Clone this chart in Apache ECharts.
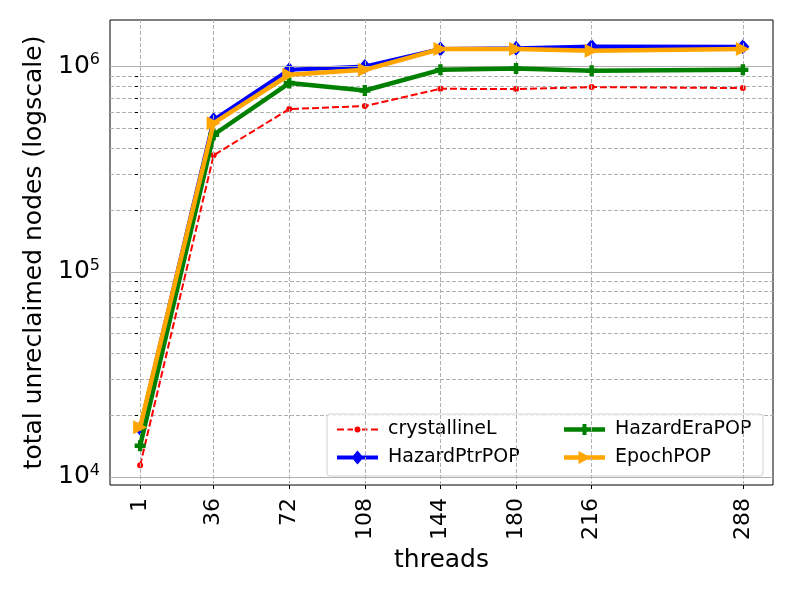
<!DOCTYPE html>
<html>
<head>
<meta charset="utf-8">
<script src="https://cdn.jsdelivr.net/npm/echarts@6/dist/echarts.min.js"></script>
<style>
  html, body { margin: 0; padding: 0; background: #fff; }
  #chart { width: 800px; height: 600px; }
</style>
</head>
<body>
<div id="chart"></div>
<script>
// thread counts and measured unreclaimed nodes
var threads = [1, 36, 72, 108, 144, 180, 216, 288];
var crystallineL = [11400, 370000, 622000, 643000, 781000, 778000, 796000, 787000];
var hazardPtrPOP = [17300, 551000, 968000, 1004000, 1220000, 1230000, 1256000, 1250000];
var hazardEraPOP = [14200, 466000, 833000, 766000, 966000, 981000, 955000, 966000];
var epochPOP = [17500, 531000, 914000, 966000, 1220000, 1222000, 1197000, 1220000];

// log axis ticks
var majorTicks = [1e4, 1e5, 1e6];
var minorTicks = [2e4, 3e4, 4e4, 5e4, 6e4, 7e4, 8e4, 9e4, 2e5, 3e5, 4e5, 5e5, 6e5, 7e5, 8e5, 9e5];

var FONT = 'DejaVu Sans';
var gridColor = '#b0b0b0';

function pairs(ys) {
    var out = [];
    for (var i = 0; i < threads.length; i++) {
        out.push([threads[i], ys[i]]);
    }
    return out;
}

var gridLines = [];
majorTicks.forEach(function (v) {
    gridLines.push({ yAxis: v, lineStyle: { type: 'solid', color: gridColor, width: 1 } });
});
threads.forEach(function (t) { gridLines.push({ xAxis: t }); });

// legend handles: line + marker, drawn in a 41x14 box
var iconRed = 'path://M0,6H7V8H0Z M10.5,6H16V8H10.5Z M25,6H30.5V8H25Z M34,6H41V8H34Z ' +
    'M17.5,7A3,3 0 1,1 23.5,7A3,3 0 1,1 17.5,7Z';
var iconBlue = 'path://M0,5H41V9H0Z M20.5,0L26.5,7L20.5,14L14.5,7Z';
var iconGreen = 'path://M0,4.8H41V9.2H0Z M18.5,1.5H22.5V5H26V9H22.5V12.5H18.5V9H15V5H18.5Z';
var iconOrange = 'path://M0,4.8H41V9.2H0Z M14.5,0.5L27,7L14.5,13.5Z';

var plusPath = 'path://M3,0H7V3H10V7H7V10H3V7H0V3H3Z';

var legendText = { fontFamily: FONT, fontSize: 19, color: '#000', padding: [0, 0, 0, 5] };

var option = {
    animation: false,
    grid: {
        left: 110, right: 27, top: 20, bottom: 115,
        show: true, borderColor: '#000', borderWidth: 1, backgroundColor: 'transparent'
    },
    xAxis: {
        type: 'value',
        min: -13.35,
        max: 302.35,
        name: 'threads',
        nameLocation: 'middle',
        nameGap: 62,
        nameTextStyle: { fontFamily: FONT, fontSize: 25, color: '#000' },
        axisLine: { show: false },
        axisTick: { show: true, customValues: threads, length: 4, lineStyle: { color: '#000' } },
        axisLabel: {
            customValues: threads,
            rotate: 90,
            fontFamily: FONT, fontSize: 22, color: '#000', margin: 13
        },
        splitLine: { show: false }
    },
    yAxis: {
        type: 'log',
        logBase: 10,
        min: 9140,
        max: 1690000,
        name: 'total unreclaimed nodes (logscale)',
        nameLocation: 'middle',
        nameGap: 60,
        nameTextStyle: { fontFamily: FONT, fontSize: 25, color: '#000' },
        axisLine: { show: false },
        axisTick: {
            show: true, length: 3,
            customValues: majorTicks.concat(minorTicks),
            lineStyle: { color: '#000' }
        },
        axisLabel: {
            customValues: majorTicks,
            fontFamily: FONT, color: '#000', margin: 10,
            formatter: function (v) {
                var e = Math.log10(v);
                if (Math.abs(e - Math.round(e)) > 1e-6) return '';
                return '{b|10}{s|' + Math.round(e) + '}';
            },
            rich: {
                b: { fontFamily: FONT, fontSize: 25, color: '#000' },
                s: { fontFamily: FONT, fontSize: 16, color: '#000', verticalAlign: 'top', padding: [0, 0, 13, 0] }
            }
        },
        splitLine: { show: true, lineStyle: { color: gridColor, width: 1, type: [4, 2] } }
    },
    legend: [{
        orient: 'vertical',
        left: 332, top: 415,
        itemGap: 9,
        itemWidth: 41, itemHeight: 14,
        textStyle: legendText,
        itemStyle: { borderWidth: 0 },
        data: [
            { name: 'crystallineL', icon: iconRed },
            { name: 'HazardPtrPOP', icon: iconBlue }
        ]
    }, {
        orient: 'vertical',
        left: 559, top: 415,
        itemGap: 9,
        itemWidth: 41, itemHeight: 14,
        textStyle: legendText,
        itemStyle: { borderWidth: 0 },
        data: [
            { name: 'HazardEraPOP', icon: iconGreen },
            { name: 'EpochPOP', icon: iconOrange }
        ]
    }],
    graphic: [{
        type: 'rect',
        shape: { x: 327, y: 414, width: 436, height: 62, r: 3 },
        style: { fill: 'rgba(255,255,255,0.8)', stroke: '#d0d0d0', lineWidth: 1 },
        z: 2
    }],
    series: [{
        name: 'gridlines',
        type: 'line',
        data: [],
        silent: true,
        markLine: {
            silent: true,
            symbol: 'none',
            label: { show: false },
            lineStyle: { color: gridColor, type: [4, 2], width: 1 },
            animation: false,
            data: gridLines
        },
        z: 1
    }, {
        name: 'crystallineL',
        type: 'line',
        data: pairs(crystallineL),
        symbol: 'circle',
        symbolSize: 6,
        color: '#ff0000',
        lineStyle: { width: 2, type: [7, 3] },
        z: 3
    }, {
        name: 'HazardPtrPOP',
        type: 'line',
        data: pairs(hazardPtrPOP),
        symbol: 'diamond',
        symbolSize: [13, 15],
        color: '#0000ff',
        lineStyle: { width: 4 },
        z: 4
    }, {
        name: 'HazardEraPOP',
        type: 'line',
        data: pairs(hazardEraPOP),
        symbol: plusPath,
        symbolSize: 11,
        color: '#008000',
        lineStyle: { width: 4.5 },
        z: 5
    }, {
        name: 'EpochPOP',
        type: 'line',
        data: pairs(epochPOP),
        symbol: 'triangle',
        symbolRotate: -90,
        symbolSize: 14,
        color: '#ffa500',
        lineStyle: { width: 4.5 },
        z: 6
    }]
};

var chart = echarts.init(document.getElementById('chart'));
chart.setOption(option);
</script>
</body>
</html>
